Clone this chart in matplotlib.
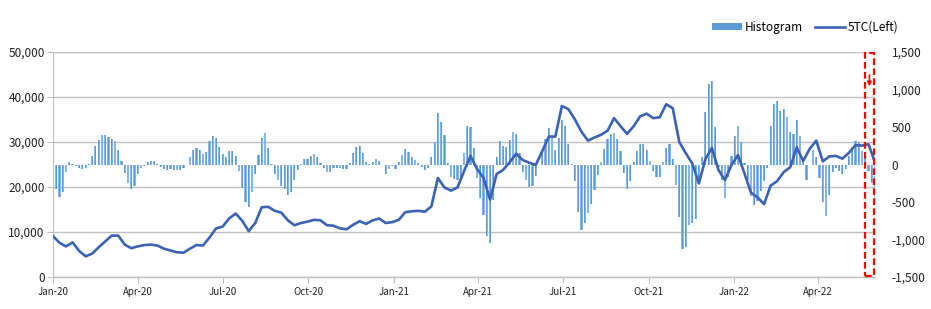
import matplotlib
matplotlib.use("Agg")
import matplotlib.pyplot as plt
import matplotlib.dates as mdates
import matplotlib.ticker as mticker
import numpy as np
import pandas as pd

plt.rcParams['font.family'] = ['Noto Sans CJK KR', 'DejaVu Sans']

# ---- Data ----
line_start = "2020-01-01"
line_step_days = 7
tc5_values = [
    9100, 7600, 6800, 7700, 5800, 4600, 5200, 6600, 7900, 9200,
    9200, 7200, 6400, 6800, 7100, 7200, 7000, 6300, 5900, 5500,
    5400, 6300, 7100, 7000, 8800, 10800, 11200, 13000, 14100, 12500,
    10200, 12000, 15500, 15600, 14700, 14300, 12600, 11500, 12000, 12300,
    12700, 12600, 11500, 11400, 10800, 10600, 11600, 12400, 11800, 12600,
    13000, 12000, 12200, 12700, 14400, 14600, 14700, 14500, 15700, 22000,
    19900, 19200, 19900, 23500, 26900, 24000, 22000, 17200, 22900, 23800,
    25500, 27400, 26000, 25400, 24900, 28000, 31200, 31200, 38000, 37300,
    35000, 32300, 30300, 31000, 31600, 32500, 35300, 33500, 31800, 33500,
    35700, 36300, 35300, 35500, 38400, 37500, 30000, 27500, 25200, 20800,
    26200, 28700, 23800, 21500, 24900, 27100, 23000, 18700, 17700, 16200,
    20300, 21300, 23300, 24400, 28800, 25800, 28500, 30300, 25700, 26800,
    26900, 26300, 27600, 29300, 29200, 29500, 25500,
]

hist_start = "2020-01-01"
hist_step_hours = 84
hist_values = [
    -250, -330, -430, -360, -100, 30, 5, -25, -45, -65,
    -45, 10, 120, 250, 330, 390, 400, 370, 340, 310,
    200, 50, -110, -240, -330, -280, -120, -45, -20, 30,
    50, 45, 10, -35, -60, -70, -65, -70, -75, -70,
    -45, 0, 100, 190, 215, 190, 140, 170, 310, 380,
    350, 240, 140, 100, 175, 180, 110, -80, -310, -500,
    -560, -370, -120, 130, 360, 420, 220, 10, -130, -200,
    -290, -330, -400, -360, -200, -70, 10, 70, 80, 110,
    135, 100, 20, -50, -100, -95, -50, -45, -45, -55,
    -55, 20, 160, 240, 250, 150, 30, 5, 30, 70,
    50, -10, -130, -55, -20, -60, 30, 130, 210, 165,
    100, 60, 15, -30, -70, -45, 100, 300, 690, 570,
    400, 20, -170, -190, -200, -170, 150, 520, 500, 220,
    -180, -450, -670, -950, -1050, -475, 100, 320, 250, 230,
    330, 440, 410, 150, -100, -200, -300, -290, -150, 0,
    170, 340, 490, 400, 190, 360, 590, 520, 280, 10,
    -220, -630, -870, -780, -640, -520, -340, -140, 40, 210,
    345, 410, 415, 340, 180, -110, -320, -220, 40, 180,
    270, 280, 190, 50, -80, -170, -170, 30, 220, 280,
    80, -270, -700, -1130, -1100, -800, -780, -720, -180, 100,
    700, 1080, 1120, 500, -30, -200, -450, -170, 120, 380,
    510, 300, 15, -200, -420, -540, -480, -350, -220, -50,
    520, 810, 850, 720, 740, 640, 430, 410, 600, 380,
    50, -200, 0, 200, 100, -180, -500, -690, -400, -100,
    -40, -80, -130, -60, 120, 240, 310, 300, 180, 120,
    -80, -250, -540,
]

left_ticks = [0, 10000, 20000, 30000, 40000, 50000]
right_ticks = [-1500, -1000, -500, 0, 500, 1000, 1500]
x_tick_dates = ["2020-01-01", "2020-04-01", "2020-07-01", "2020-10-01",
                "2021-01-01", "2021-04-01", "2021-07-01", "2021-10-01",
                "2022-01-01", "2022-04-01"]
x_tick_labels = ["Jan-20", "Apr-20", "Jul-20", "Oct-20", "Jan-21", "Apr-21",
                 "Jul-21", "Oct-21", "Jan-22", "Apr-22"]
highlight_start = "2022-05-21"
highlight_end = "2022-05-31"

# ---- Build series ----
line_dates = pd.date_range(line_start, periods=len(tc5_values), freq=f"{line_step_days}D")
hist_dates = pd.date_range(hist_start, periods=len(hist_values), freq=f"{hist_step_hours}h")

# ---- Figure ----
fig = plt.figure(figsize=(9.31, 3.09), dpi=100)
ax = fig.add_axes([53 / 931, 32 / 309, (875 - 53) / 931, 225 / 309])
ax2 = ax.twinx()

# Histogram on right axis (drawn behind the line)
ax2.bar(hist_dates, hist_values, width=2.3, color="#86B6E4", linewidth=0,
        zorder=2, label="Histogram")
ax2.bar(hist_dates, hist_values, width=0.9, color="#5B9BD5", linewidth=0,
        zorder=3)
ax2.set_ylim(-1500, 1500)
ax2.set_yticks(right_ticks)
ax2.yaxis.set_major_formatter(mticker.FuncFormatter(lambda v, p: f"{int(v):,}"))

# Put line axis on top
ax.set_zorder(ax2.get_zorder() + 1)
ax.patch.set_visible(False)
ax.plot(line_dates, tc5_values, color="#3A62B5", linewidth=1.9, zorder=5,
        label="5TC(Left)", solid_joinstyle="round")
ax.set_ylim(0, 50000)
ax.set_yticks(left_ticks)
ax.yaxis.set_major_formatter(mticker.FuncFormatter(lambda v, p: f"{int(v):,}"))
ax.set_xlim(pd.Timestamp("2020-01-01"), pd.Timestamp("2022-06-01"))
ax.set_xticks(pd.to_datetime(x_tick_dates))
ax.set_xticklabels(x_tick_labels)

# Gridlines (on background axis)
for v in left_ticks:
    ax2.axhline(v / 50000 * 3000 - 1500, color="#BFBFBF", linewidth=1.0, zorder=0)

# Spines and ticks
for a in (ax, ax2):
    for s in ("top", "right", "left", "bottom"):
        a.spines[s].set_visible(False)
ax.spines["left"].set_visible(True)
ax.spines["left"].set_color("#BFBFBF")
ax.spines["bottom"].set_visible(True)
ax.spines["bottom"].set_color("#BFBFBF")
ax.spines["bottom"].set_linewidth(1.0)

ax.tick_params(axis="y", length=4, color="#BFBFBF", labelsize=8.5, pad=2,
               labelcolor="#222222")
ax.tick_params(axis="x", length=4, color="#BFBFBF", labelsize=7, pad=3,
               labelcolor="#222222", direction="out")
ax2.tick_params(axis="y", length=0, labelsize=8.5, pad=12, labelcolor="#222222")
ax2.tick_params(axis="x", length=0)

# Red dashed highlight box and arrow
x0 = mdates.date2num(pd.Timestamp(highlight_start))
x1 = mdates.date2num(pd.Timestamp(highlight_end))
rect = plt.Rectangle((x0, 0.003), x1 - x0, 0.994, transform=ax.get_xaxis_transform(),
                     fill=False, edgecolor="#FF0000", linestyle=(0, (3, 1.5)),
                     linewidth=1.6, zorder=10, clip_on=False)
ax.add_patch(rect)
xm = (x0 + x1) / 2
ax.annotate("", xy=(xm, 0.835), xytext=(xm, 0.91), xycoords=ax.get_xaxis_transform(),
            arrowprops=dict(arrowstyle="-|>", color="#FF0000", lw=1.2,
                            mutation_scale=6), zorder=11)

# Legend
h1, l1 = ax2.get_legend_handles_labels()
h2, l2 = ax.get_legend_handles_labels()
leg = fig.legend(h1 + h2, l1 + l2, loc="center", bbox_to_anchor=(805 / 931, 1 - 27 / 309),
                 ncol=2, frameon=False, fontsize=8.5, handlelength=2.6,
                 handleheight=0.6, columnspacing=1.0, handletextpad=0.2)
for p in leg.get_patches():
    p.set_facecolor("#5B9BD5")
    p.set_alpha(1)

fig.savefig("out.png", dpi=100)
